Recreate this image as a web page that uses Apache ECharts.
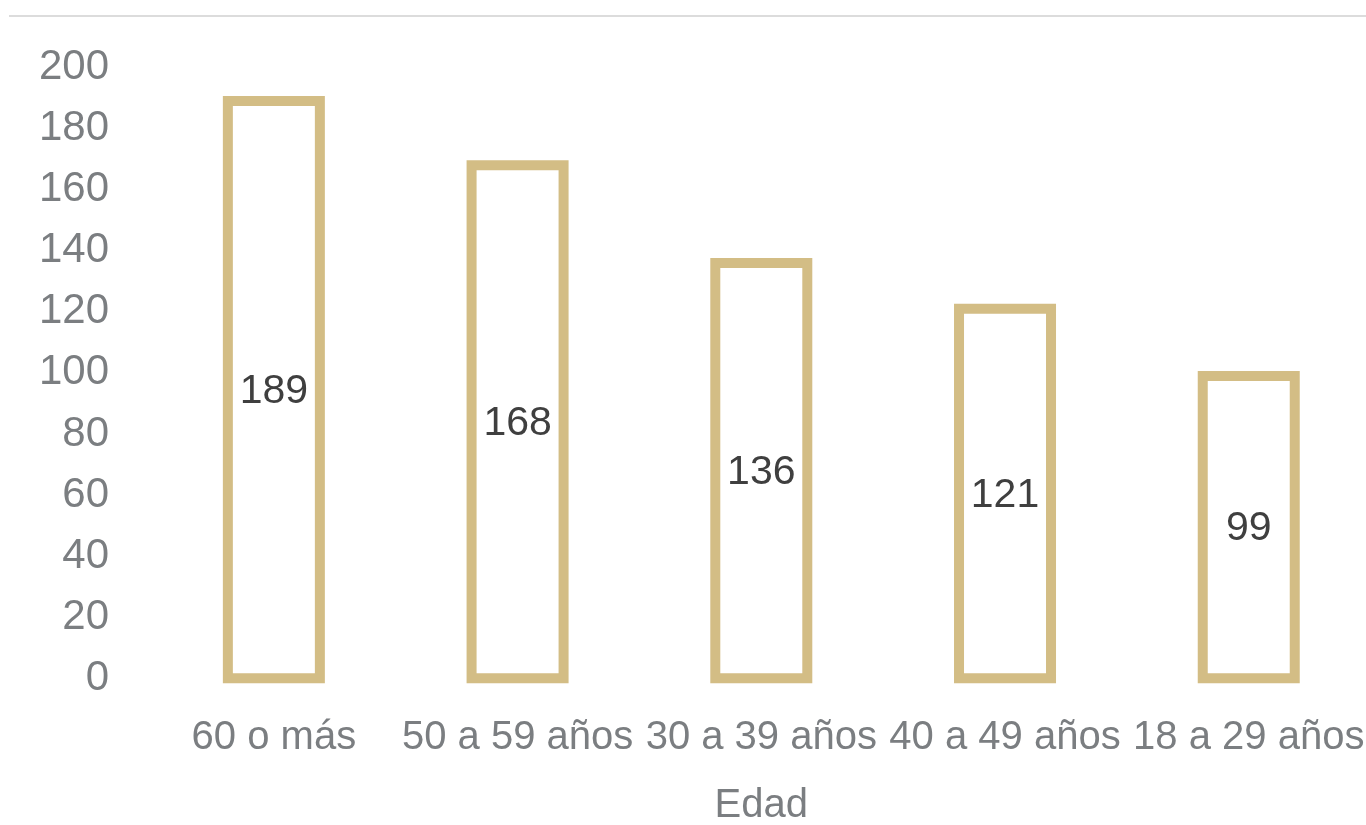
<!DOCTYPE html>
<html>
<head>
<meta charset="utf-8">
<script src="https://cdn.jsdelivr.net/npm/echarts@6/dist/echarts.min.js"></script>
<style>
  html, body { margin: 0; padding: 0; background: #fff; overflow: hidden; }
  #chart { width: 1366px; height: 825px; }
</style>
</head>
<body>
<div id="chart"></div>
<script>
// datos
const categories = ['60 o más', '50 a 59 años', '30 a 39 años', '40 a 49 años', '18 a 29 años']
const values = [189, 168, 136, 121, 99]
const yTicks = { min: 0, max: 200, interval: 20 }

const FONT = 'Liberation Sans, Arial, sans-serif'
const BAR_COLOR = '#d3bd85'
const BAR_W = 92 // el borde queda centrado sobre el rectángulo, como en Excel

const chart = echarts.init(document.getElementById('chart'))

const renderBar = (params, api) => {
  const base = api.coord([api.value(0), 0])
  const top = api.coord([api.value(0), api.value(1)])
  return {
    type: 'group',
    children: [
      {
        type: 'rect',
        shape: { x: top[0] - BAR_W / 2, y: top[1], width: BAR_W, height: base[1] - top[1] },
        style: { fill: 'none', stroke: BAR_COLOR, lineWidth: 10 }
      },
      {
        type: 'text',
        x: top[0],
        y: (top[1] + base[1]) / 2 + 2,
        style: {
          text: String(api.value(1)),
          fill: '#3f3f3f',
          fontSize: 41,
          fontFamily: FONT,
          align: 'center',
          verticalAlign: 'middle'
        }
      }
    ]
  }
}

const option = {
  animation: false,
  textStyle: { fontFamily: FONT },
  graphic: [{
    type: 'line',
    shape: { x1: 9, y1: 16, x2: 1366, y2: 16 },
    style: { stroke: '#dcdcdc', lineWidth: 2 }
  }],
  grid: { left: 152, top: 67.5, width: 1218.6, height: 610.8, outerBoundsMode: 'none' },
  xAxis: {
    type: 'category',
    data: categories,
    name: 'Edad',
    nameLocation: 'middle',
    nameGap: 108,
    nameTextStyle: { fontSize: 40, color: '#7b7e81' },
    axisLine: { show: false },
    axisTick: { show: false },
    splitLine: { show: false },
    axisLabel: { interval: 0, fontSize: 40, color: '#7b7e81', margin: 40 }
  },
  yAxis: {
    type: 'value',
    min: yTicks.min,
    max: yTicks.max,
    interval: yTicks.interval,
    axisLine: { show: false },
    axisTick: { show: false },
    splitLine: { show: false },
    axisLabel: { fontSize: 42, color: '#7b7e81', margin: 43 }
  },
  series: [{
    type: 'custom',
    renderItem: renderBar,
    encode: { x: 0, y: 1 },
    data: values.map((v, i) => [i, v])
  }]
}

chart.setOption(option)
</script>
</body>
</html>
